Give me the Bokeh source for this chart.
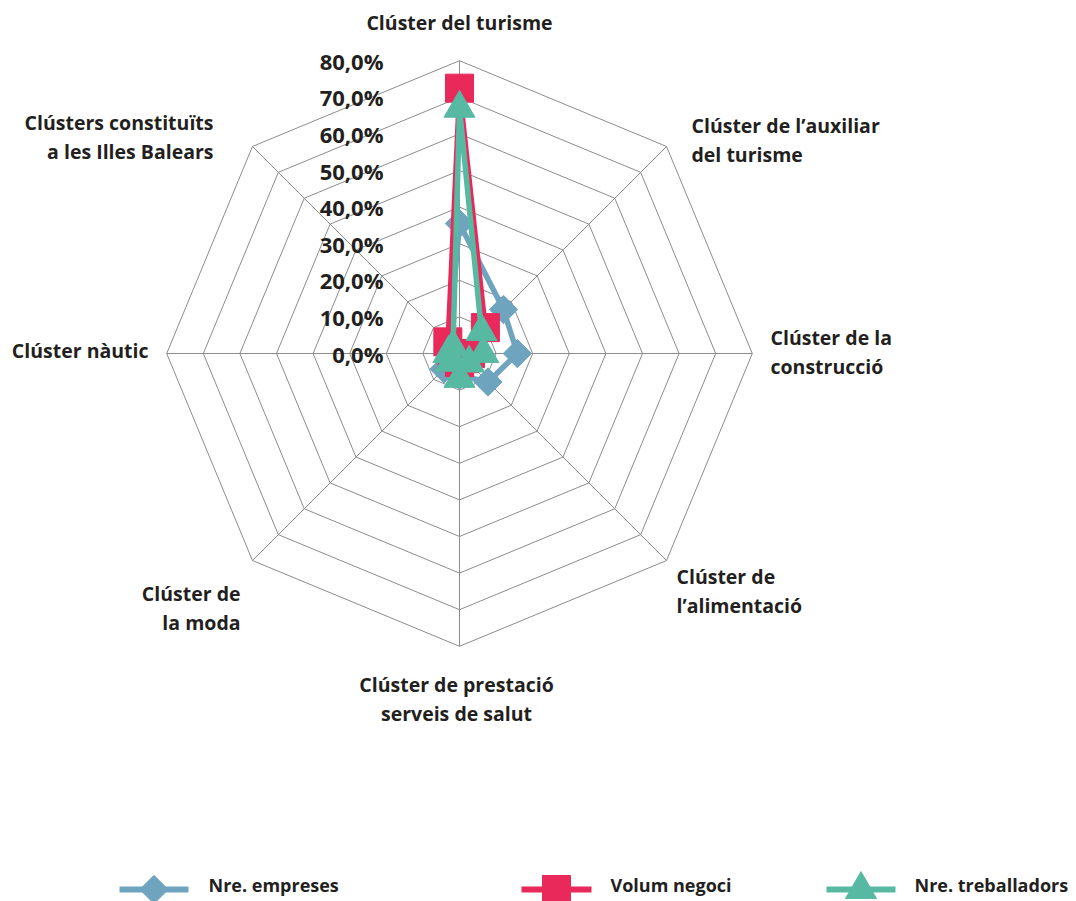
import math
from bokeh.plotting import figure
from bokeh.models import Range1d
from bokeh.core.properties import value
from bokeh.embed import file_html
from bokeh.resources import INLINE

# ---- data ----
categories = [
    "Clúster del turisme",
    "Clúster de l’auxiliar del turisme",
    "Clúster de la construcció",
    "Clúster de l’alimentació",
    "Clúster de prestació serveis de salut",
    "Clúster de la moda",
    "Clúster nàutic",
    "Clústers constituïts a les Illes Balears",
]
empreses = [35.5, 17.0, 15.8, 11.0, 6.0, 6.0, 3.0, 4.0]
volum_negoci = [72.5, 10.0, 3.0, 2.0, 2.5, 1.5, 2.0, 4.5]
treballadors = [67.0, 8.5, 6.5, 3.7, 6.8, 3.4, 3.0, 2.5]
tick_values = [0, 10, 20, 30, 40, 50, 60, 70, 80]
tick_labels = ["0,0%", "10,0%", "20,0%", "30,0%", "40,0%", "50,0%", "60,0%", "70,0%", "80,0%"]
series_names = ["Nre. empreses", "Volum negoci", "Nre. treballadors"]

BLUE = "#6fa4bf"
RED = "#e8295a"
GREEN = "#57b9a2"
GRID = "#8c8c8c"
TXT = "#231f20"
FONT = "Open Sans"

OX, OY = 0, 0      # page origin of the figure
W, H = 1076, 901
K = 3.66           # px per percent
CX, CY = 459, 353  # page px of centre


def P(px, py):
    return (px - CX) / K, (CY - py) / K


n = len(categories)
angles = [math.pi / 2 - i * 2 * math.pi / n for i in range(n)]

p = figure(width=W, height=H, output_backend="svg", toolbar_location=None,
           x_range=Range1d((OX - CX) / K, (OX + W - CX) / K),
           y_range=Range1d((CY - OY - H) / K, (CY - OY) / K),
           min_border=0)
p.axis.visible = False
p.grid.visible = False
p.outline_line_color = None
p.background_fill_color = "white"
p.border_fill_color = "white"

# grid rings
for v in tick_values[1:]:
    xs = [v * math.cos(a) for a in angles] + [v * math.cos(angles[0])]
    ys = [v * math.sin(a) for a in angles] + [v * math.sin(angles[0])]
    p.line(xs, ys, line_color=GRID, line_width=1)
rmax = tick_values[-1]
for a in angles:
    p.line([0, rmax * math.cos(a)], [0, rmax * math.sin(a)], line_color=GRID, line_width=1)

# tick labels
tx, _ = P(383, 0)
p.text(x=[tx] * len(tick_values), y=tick_values, text=tick_labels,
       text_align="right", text_baseline="middle", text_font=value(FONT),
       text_font_style="bold", text_font_size="22px", text_color=TXT)

# series
def closed_xy(vals):
    xs = [v * math.cos(a) for v, a in zip(vals, angles)]
    ys = [v * math.sin(a) for v, a in zip(vals, angles)]
    return xs, ys

ex, ey = closed_xy(empreses)
p.line(ex + ex[:1], ey + ey[:1], line_color=BLUE, line_width=5.5, line_join="round")
p.scatter(ex, ey, marker="square", angle=math.pi / 4, size=20, fill_color=BLUE, line_color=BLUE)

vx, vy = closed_xy(volum_negoci)
p.line(vx + vx[:1], vy + vy[:1], line_color=RED, line_width=5, line_join="round")
p.scatter(vx, vy, marker="square", size=28, fill_color=RED, line_color=RED)

gx, gy = closed_xy(treballadors)
p.line(gx + gx[:1], gy + gy[:1], line_color=GREEN, line_width=5.5, line_join="round")
p.scatter(gx, gy, marker="triangle", size=31, fill_color=GREEN, line_color=GREEN)

# category labels (page px positions, alignment)
label_specs = [
    (["Clúster del turisme"], 459, 22, "center"),
    (["Clúster de l’auxiliar", "del turisme"], 691, 125, "left"),
    (["Clúster de la", "construcció"], 770, 337, "left"),
    (["Clúster de", "l’alimentació"], 676, 576, "left"),
    (["Clúster de prestació", "serveis de salut"], 456, 684, "center"),
    (["Clúster de", "la moda"], 240, 593, "right"),
    (["Clúster nàutic"], 148, 350, "right"),
    (["Clústers constituïts", "a les Illes Balears"], 213, 122, "right"),
]
for lines, lx, ly, al in label_specs:
    for j, t in enumerate(lines):
        x, y = P(lx, ly + j * 29)
        p.text(x=[x], y=[y], text=[t], text_align=al, text_baseline="middle",
               text_font=value(FONT), text_font_style="bold", text_font_size="19.5px",
               text_color=TXT)

# legend (manual)
LY = 889
TY = 884
leg = [(119, 188, 208, BLUE, "diamond"), (521, 591, 610, RED, "square"), (826, 895, 914, GREEN, "triangle")]
for (x0, x1, xt, col, mk), name in zip(leg, series_names):
    a0, b = P(x0, LY)
    a1, _ = P(x1, LY)
    p.line([a0, a1], [b, b], line_color=col, line_width=6)
    mx = (a0 + a1) / 2
    if mk == "diamond":
        p.scatter([mx], [b], marker="square", angle=math.pi / 4, size=20, fill_color=col, line_color=col)
    elif mk == "square":
        p.scatter([mx], [b], marker="square", size=28, fill_color=col, line_color=col)
    else:
        p.scatter([mx], [b], marker="triangle", size=31, fill_color=col, line_color=col)
    t, tb = P(xt, TY)
    p.text(x=[t], y=[tb], text=[name], text_align="left", text_baseline="middle",
           text_font=value(FONT), text_font_style="bold", text_font_size="18px", text_color=TXT)

open("out.html", "w").write(file_html(p, INLINE))
